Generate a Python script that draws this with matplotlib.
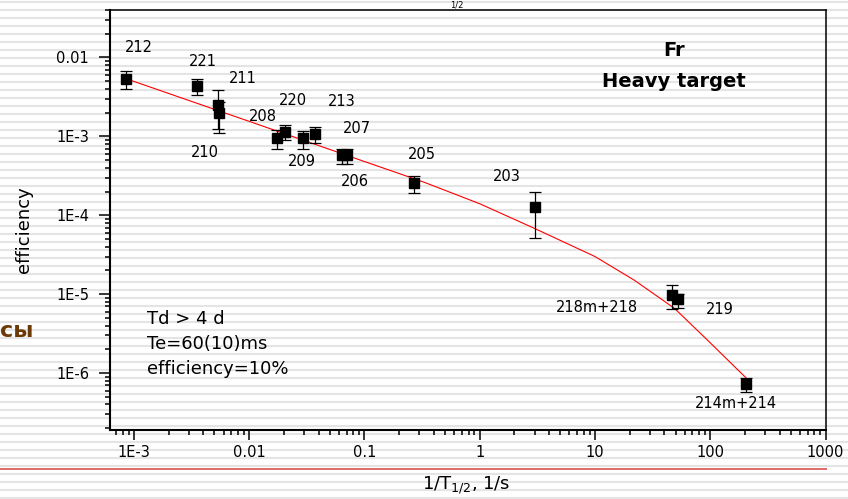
import matplotlib.pyplot as plt
import numpy as np

# Fr isotopes: 1/T1/2 (1/s) and efficiency with error range
isotopes = ['212', '221', '211', '210', '208', '220', '209', '213',
            '207', '206', '205', '203', '218m+218', '219', '214m+214']
inv_t = [8.5e-4, 3.5e-3, 5.4e-3, 5.5e-3, 0.0174, 0.0206, 0.0293, 0.0375,
         0.0705, 0.0637, 0.268, 3.0, 46.4, 52.0, 206.0]
eff = [5.4e-3, 4.3e-3, 2.47e-3, 2.0e-3, 9.6e-4, 1.13e-3, 9.5e-4, 1.08e-3,
       5.75e-4, 5.75e-4, 2.56e-4, 1.27e-4, 9.7e-6, 8.6e-6, 7.3e-7]
eff_lo = [4.0e-3, 3.3e-3, 1.25e-3, 1.1e-3, 7.0e-4, 8.9e-4, 7.0e-4, 8.2e-4,
          4.5e-4, 4.5e-4, 1.94e-4, 5.2e-5, 6.4e-6, 6.6e-6, 5.8e-7]
eff_hi = [6.7e-3, 5.3e-3, 3.9e-3, 2.7e-3, 1.19e-3, 1.4e-3, 1.17e-3, 1.3e-3,
          7.0e-4, 7.0e-4, 3.15e-4, 1.97e-4, 1.3e-5, 1.02e-5, 8.7e-7]

# fitted curve
fit_x = [8.5e-4, 0.01, 0.1, 0.21, 0.33, 1.0, 3.0, 10.0, 22.0, 49.0, 95.0, 206.0]
fit_y = [5.4e-3, 1.55e-3, 4.8e-4, 3.3e-4, 2.62e-4, 1.4e-4, 6.8e-5, 3.0e-5,
         1.5e-5, 6.6e-6, 2.6e-6, 8.6e-7]

xtick_vals = [1e-3, 1e-2, 1e-1, 1, 10, 100, 1000]
xtick_labels = ['1E-3', '0.01', '0.1', '1', '10', '100', '1000']
ytick_vals = [1e-6, 1e-5, 1e-4, 1e-3, 1e-2]
ytick_labels = ['1E-6', '1E-5', '1E-4', '1E-3', '0.01']

# where each isotope label sits relative to its marker (pixels, y up)
lab_dx = [13, 6, 24, -14, -14, 8, -1, 26, 10, 13, 8, -28, -75, 42, -11]
lab_dy = [31, 25, 27, -40, 21, 32, -23, 32, 27, -26, 29, 31, -12, -10, -20]

fig = plt.figure(figsize=(8.48, 4.99), dpi=100)

# slide background: grey stripes and red rule
bg = fig.add_axes([0, 0, 1, 1], zorder=0)
bg.set_xlim(0, 848)
bg.set_ylim(499, 0)
bg.axis('off')
bg.hlines(np.arange(2, 499, 8), 0, 848, color='#e4e4e4', lw=1.5)
bg.hlines(469, 0, 827, color='#d9534f', lw=1.2)

fig.text(0.0, 1 - 331 / 499, 'сы', ha='left', va='center',
         fontsize=16, fontweight='bold', color='#6b3a06')
fig.text(457 / 848, 1.0, '1/2', ha='center', va='top', fontsize=6)

ax = fig.add_axes([0.1297, 0.1383, 0.8438, 0.8417], zorder=1)
ax.patch.set_alpha(0)
ax.set_xscale('log')
ax.set_yscale('log')
ax.set_xlim(6.2e-4, 1000)
ax.set_ylim(1.9e-7, 0.04)

ax.plot(fit_x, fit_y, color='red', lw=0.8, zorder=2)

eff_a = np.array(eff)
yerr = [eff_a - np.array(eff_lo), np.array(eff_hi) - eff_a]
ax.errorbar(inv_t, eff, yerr=yerr, fmt='s', color='black', ms=7.5,
            capsize=4.3, elinewidth=0.9, capthick=0.9, zorder=3)

for name, x, y, dx, dy in zip(isotopes, inv_t, eff, lab_dx, lab_dy):
    ax.annotate(name, (x, y), xytext=(dx, dy), textcoords='offset pixels',
                ha='center', va='center', fontsize=10.5)

ax.text(0.788, 0.9036, 'Fr', transform=ax.transAxes, ha='center',
        va='center', fontsize=14, fontweight='bold')
ax.text(0.788, 0.830, 'Heavy target', transform=ax.transAxes, ha='center',
        va='center', fontsize=14, fontweight='bold')

ax.text(0.0513, 0.2636, 'Td > 4 d', transform=ax.transAxes, va='center', fontsize=13)
ax.text(0.0513, 0.2040, 'Te=60(10)ms', transform=ax.transAxes, va='center', fontsize=13)
ax.text(0.0513, 0.1452, 'efficiency=10%', transform=ax.transAxes, va='center', fontsize=13)

ax.set_xticks(xtick_vals)
ax.set_xticklabels(xtick_labels)
ax.set_yticks(ytick_vals)
ax.set_yticklabels(ytick_labels)
ax.tick_params(which='major', direction='out', length=7, width=1.1,
               labelsize=10.5, top=False, right=False)
ax.tick_params(axis='y', which='major', length=8, pad=7)
ax.tick_params(axis='x', which='major', pad=4)
ax.tick_params(which='minor', direction='out', length=3.5, width=1.1,
               top=False, right=False)

for side in ['left', 'bottom']:
    ax.spines[side].set_linewidth(1.5)
for side in ['top', 'right']:
    ax.spines[side].set_linewidth(1.1)

ax.set_xlabel(r'1/T$_{1/2}$, 1/s', fontsize=13)
ax.xaxis.set_label_coords(0.498, -0.105)
ax.set_ylabel('efficiency', fontsize=13)
ax.yaxis.set_label_coords(-0.108, 0.476)

fig.savefig('out.png', dpi=100)
